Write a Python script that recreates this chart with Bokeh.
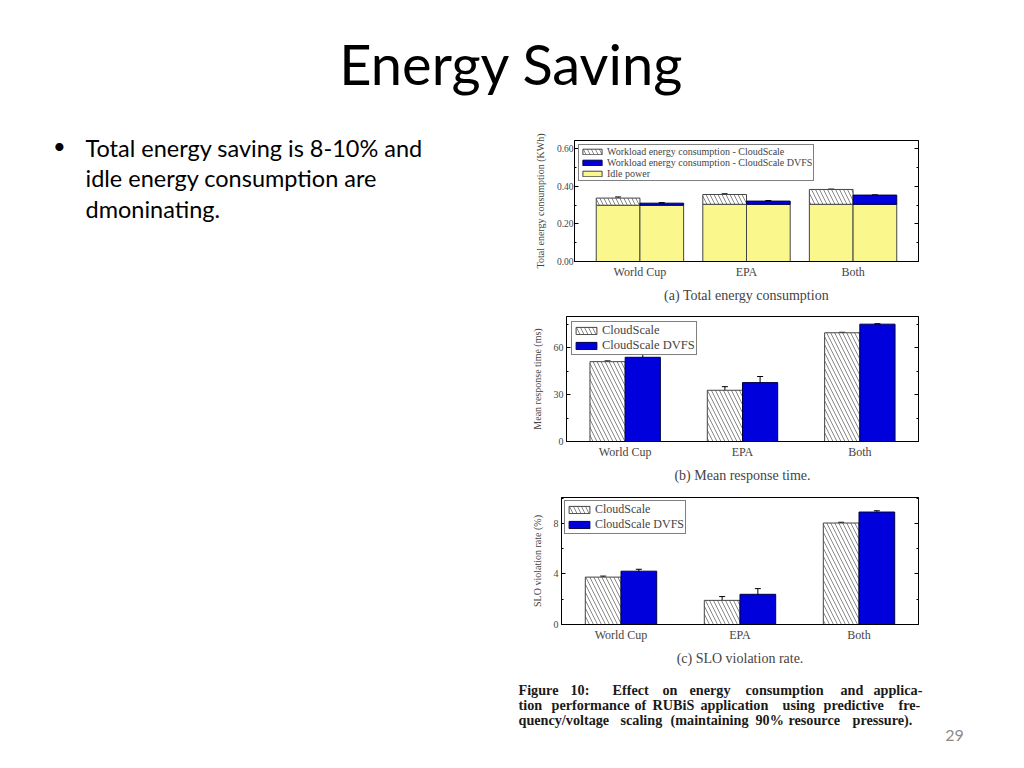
from bokeh.plotting import figure
from bokeh.models import (FactorRange, Range1d, ColumnDataSource, Legend, LegendItem,
                          LinearAxis, FixedTicker, NumeralTickFormatter, Whisker, TeeHead,
                          Spacer, CustomJSTickFormatter)
from bokeh.transform import dodge
from bokeh.layouts import column, row
from bokeh.embed import file_html
from bokeh.resources import INLINE
from bokeh.core.properties import value

# ---------------- data ----------------
categories = ["World Cup", "EPA", "Both"]

energy_idle = [0.300, 0.305, 0.305]
energy_cs_total = [0.338, 0.357, 0.384]
energy_cs_err = [0.006, 0.004, 0.002]
energy_dvfs_total = [0.311, 0.322, 0.354]
energy_dvfs_err = [0.003, 0.003, 0.001]

resp_cs = [51.1, 32.8, 69.6]
resp_cs_err = [0.5, 2.3, 0.3]
resp_dvfs = [53.9, 37.7, 75.1]
resp_dvfs_err = [1.8, 3.9, 0.3]

slo_cs = [3.75, 1.91, 8.03]
slo_cs_err = [0.08, 0.30, 0.06]
slo_dvfs = [4.22, 2.39, 8.90]
slo_dvfs_err = [0.15, 0.45, 0.10]

energy_ticks = [0.0, 0.2, 0.4, 0.6]
resp_ticks = [0, 30, 60]
slo_ticks = [0, 4, 8]

SERIF = "Liberation Serif"
SANS = "Lato"
BLUE = "#0000DC"
YELLOW = "#FAF78C"
HATCH_COLOR = "#6a6a6a"
BASE = 0.43  # alphabetic baseline correction (fraction of font size)


def text_fig(w, h):
    p = figure(width=w, height=h, x_range=Range1d(0, w), y_range=Range1d(h, 0),
               output_backend="svg", toolbar_location=None,
               x_axis_type=None, y_axis_type=None, min_border=0)
    p.outline_line_color = None
    return p


def chart(w, h, bl, br, bt, bb, pad, y_end, ticks, minor, fmt, ylabel, xlabel,
          tick_size, xlab_size, cap_size, tick_standoff=3, label_standoff=8):
    p = figure(width=w, height=h, x_range=FactorRange(factors=categories, range_padding=pad),
               y_range=Range1d(0, y_end), output_backend="svg", toolbar_location=None,
               min_border_left=bl, min_border_right=br, min_border_top=bt, min_border_bottom=bb)
    p.xgrid.visible = False
    p.ygrid.visible = False
    p.outline_line_color = "black"
    p.outline_line_width = 1
    p.outline_line_alpha = 1

    ya = p.yaxis[0]
    ya.ticker = FixedTicker(ticks=ticks, minor_ticks=minor)
    if fmt:
        ya.formatter = NumeralTickFormatter(format=fmt)
    ya.major_tick_in = 4
    ya.major_tick_out = 0
    ya.minor_tick_in = 2
    ya.minor_tick_out = 0
    ya.major_label_text_font = SERIF
    ya.major_label_text_font_size = tick_size
    ya.major_label_standoff = tick_standoff
    ya.axis_label = ylabel
    ya.axis_label_text_font = SERIF
    ya.axis_label_text_font_style = "normal"
    ya.axis_label_text_font_size = "10px"
    ya.axis_label_standoff = label_standoff
    ya.axis_line_color = "black"

    ra = LinearAxis(ticker=FixedTicker(ticks=ticks, minor_ticks=minor),
                    formatter=CustomJSTickFormatter(code="return ''"),
                    major_label_standoff=0,
                    major_tick_in=4, major_tick_out=0, minor_tick_in=2, minor_tick_out=0,
                    axis_line_color="black")
    p.add_layout(ra, "right")

    xa = p.xaxis[0]
    xa.major_tick_line_color = None
    xa.major_tick_in = 0
    xa.major_tick_out = 0
    xa.major_label_text_font = SERIF
    xa.major_label_text_font_size = xlab_size
    xa.major_label_standoff = 3
    xa.axis_label = xlabel
    xa.axis_label_text_font = SERIF
    xa.axis_label_text_font_style = "normal"
    xa.axis_label_text_font_size = cap_size
    xa.axis_label_standoff = 6
    xa.axis_line_color = "black"
    return p


def style_legend(leg, size, gw, gh, lh, spacing, padding, margin):
    leg.location = "top_left"
    leg.margin = margin
    leg.padding = padding
    leg.spacing = spacing
    leg.glyph_width = gw
    leg.glyph_height = gh
    leg.label_height = lh
    leg.label_standoff = 3
    leg.label_text_font = SERIF
    leg.label_text_font_size = size
    leg.border_line_color = "black"
    leg.border_line_width = 1
    leg.background_fill_alpha = 1


# ---------------- title ----------------
title_fig = text_fig(1020, 130)
title_fig.text(x=[511], y=[87.3 - BASE * 56], text=["Energy Saving"], text_align="center",
               text_baseline="alphabetic", text_font=value(SANS), text_font_size="56px",
               text_color="#000000")

# ---------------- bullets ----------------
left_fig = text_fig(513, 538)
left_fig.text(x=[59], y=[15], text=["\u2022"], text_align="center", text_baseline="middle",
              text_font=value(SANS), text_font_size="22px", text_color="#000000")
bsz = 23.5
left_fig.text(x=[85, 85, 85], y=[28 - BASE * bsz, 58 - BASE * bsz, 88.5 - BASE * bsz],
              text=["Total energy saving is 8-10% and", "idle energy consumption are",
                    "dmoninating."],
              text_align="left", text_baseline="alphabetic", text_font=value(SANS),
              text_font_size=f"{bsz}px", text_color="#000000")

# ---------------- chart (a) ----------------
pa = chart(489, 175, 40, 102, 10, 43, 0.076, 0.645, energy_ticks, [0.1, 0.3, 0.5], "0.00",
           "Total energy consumption (KWh)", "(a) Total energy consumption",
           "9.5px", "12px", "14px", tick_standoff=1, label_standoff=8)
src_a = ColumnDataSource(dict(
    cat=categories, idle=energy_idle,
    cs=energy_cs_total, dvfs=energy_dvfs_total,
    cs_up=[v + e for v, e in zip(energy_cs_total, energy_cs_err)],
    cs_lo=[v - e for v, e in zip(energy_cs_total, energy_cs_err)],
    dv_up=[v + e for v, e in zip(energy_dvfs_total, energy_dvfs_err)],
    dv_lo=[v - e for v, e in zip(energy_dvfs_total, energy_dvfs_err)],
))
wa = 0.41
off_a = 0.205
r_idle_cs = pa.vbar(x=dodge("cat", -off_a, range=pa.x_range), top="idle", bottom=0, width=wa,
                    source=src_a, fill_color=YELLOW, line_color="#444444", line_width=1)
pa.vbar(x=dodge("cat", off_a, range=pa.x_range), top="idle", bottom=0, width=wa,
        source=src_a, fill_color=YELLOW, line_color="#444444", line_width=1)
r_cs_a = pa.vbar(x=dodge("cat", -off_a, range=pa.x_range), top="cs", bottom="idle", width=wa,
                 source=src_a, fill_color="white", line_color="#444444", line_width=1,
                 hatch_pattern="\\", hatch_color=HATCH_COLOR, hatch_scale=8, hatch_weight=0.8)
r_dv_a = pa.vbar(x=dodge("cat", off_a, range=pa.x_range), top="dvfs", bottom="idle", width=wa,
                 source=src_a, fill_color=BLUE, line_color="#000044", line_width=1)
for base, up, lo in [(-off_a, "cs_up", "cs_lo"), (off_a, "dv_up", "dv_lo")]:
    pa.add_layout(Whisker(source=src_a, base=dodge("cat", base, range=pa.x_range),
                          upper=up, lower=lo, line_color="black", line_width=1,
                          upper_head=TeeHead(size=6, line_color="black", line_width=1),
                          lower_head=TeeHead(size=6, line_color="black", line_width=1)))
leg_a = Legend(items=[
    LegendItem(label="Workload energy consumption - CloudScale", renderers=[r_cs_a]),
    LegendItem(label="Workload energy consumption - CloudScale DVFS", renderers=[r_dv_a]),
    LegendItem(label="Idle power", renderers=[r_idle_cs]),
])
style_legend(leg_a, "10px", 24, 7, 7, 0, 1, 4)
pa.add_layout(leg_a)


def simple_chart(w, h, bl, br, bt, bb, y_end, ticks, minor, ylabel, xlabel,
                 cs, cs_err, dv, dv_err, leg_size, leg_margin):
    p = chart(w, h, bl, br, bt, bb, 0.0, y_end, ticks, minor, None, ylabel, xlabel,
              "10px", "12px", "14px")
    src = ColumnDataSource(dict(
        cat=categories, cs=cs, dv=dv,
        cs_up=[v + e for v, e in zip(cs, cs_err)], cs_lo=[v - e for v, e in zip(cs, cs_err)],
        dv_up=[v + e for v, e in zip(dv, dv_err)], dv_lo=[v - e for v, e in zip(dv, dv_err)],
    ))
    wdt = 0.30
    off = 0.15
    r_cs = p.vbar(x=dodge("cat", -off, range=p.x_range), top="cs", bottom=0, width=wdt,
                  source=src, fill_color="white", line_color="#444444", line_width=1,
                  hatch_pattern="\\", hatch_color=HATCH_COLOR, hatch_scale=8, hatch_weight=0.8)
    r_dv = p.vbar(x=dodge("cat", off, range=p.x_range), top="dv", bottom=0, width=wdt,
                  source=src, fill_color=BLUE, line_color="#000044", line_width=1)
    for base, up, lo in [(-off, "cs_up", "cs_lo"), (off, "dv_up", "dv_lo")]:
        p.add_layout(Whisker(source=src, base=dodge("cat", base, range=p.x_range),
                             upper=up, lower=lo, line_color="black", line_width=1,
                             upper_head=TeeHead(size=6, line_color="black", line_width=1),
                             lower_head=TeeHead(size=6, line_color="black", line_width=1)))
    leg = Legend(items=[LegendItem(label="CloudScale", renderers=[r_cs]),
                        LegendItem(label="CloudScale DVFS", renderers=[r_dv])])
    style_legend(leg, leg_size, 26, 9, 9, 0, 1, leg_margin)
    p.add_layout(leg)
    return p


pb = simple_chart(494, 180, 40, 102, 11, 43, 80, resp_ticks, [15, 45, 75],
                  "Mean response time (ms)", "(b) Mean response time.",
                  resp_cs, resp_cs_err, resp_dvfs, resp_dvfs_err, "12.5px", 5)
pc = simple_chart(499, 183, 40, 102, 12, 44, 10.05, slo_ticks, [2, 6, 10],
                  "SLO violation rate (%)", "(c) SLO violation rate.",
                  slo_cs, slo_cs_err, slo_dvfs, slo_dvfs_err, "12px", 3)

right_col = column(row(Spacer(width=18, height=175), pa),
                   row(Spacer(width=13, height=180), pb),
                   row(Spacer(width=8, height=183), pc))

# ---------------- figure caption + page number ----------------
cap = text_fig(1020, 98)
csz = 14.2
line1 = [("Figure", 518), ("10:", 570), ("Effect", 612), ("on", 662), ("energy", 689),
         ("consumption", 745), ("and", 840), ("applica-", 873)]
line2 = [("tion", 518), ("performance", 551), ("of", 634), ("RUBiS", 652),
         ("application", 700), ("using", 782), ("predictive", 823), ("fre-", 898)]
line3 = [("quency/voltage", 518), ("scaling", 620), ("(maintaining", 670), ("90%", 755),
         ("resource", 788), ("pressure).", 852)]
words, xs, ys = [], [], []
for line, base_y in [(line1, 27.5), (line2, 42.5), (line3, 58.0)]:
    for w_, x_ in line:
        words.append(w_)
        xs.append(x_)
        ys.append(base_y - BASE * csz)
cap.text(x=xs, y=ys, text=words, text_align="left", text_baseline="alphabetic",
         text_font=value(SERIF), text_font_style="bold", text_font_size=f"{csz}px",
         text_color="#1a1a1a")
cap.text(x=[954], y=[74 - BASE * 16], text=["29"], text_align="center",
         text_baseline="alphabetic", text_font=value(SANS), text_font_size="16px",
         text_color="#8B8B8B")

body = row(left_fig, right_col)
page = column(title_fig, body, cap)

open("out.html", "w").write(file_html(page, INLINE))
